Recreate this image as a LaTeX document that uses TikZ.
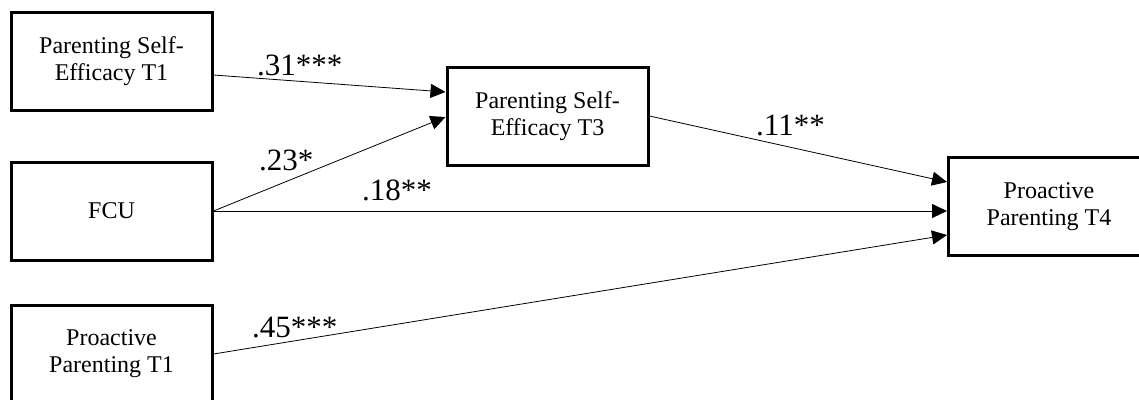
\documentclass[tikz,border=0pt]{standalone}
\usepackage{fontspec}
\setmainfont{Liberation Serif}
\usetikzlibrary{arrows.meta,calc}
\tikzset{
  varbox/.style={draw, line width=3pt, minimum width=201pt, minimum height=98pt, align=center, inner sep=0pt, font=\fontsize{24}{27}\selectfont},
  path/.style={line width=0.8pt, -{Triangle[length=15pt,width=14pt]}},
  coef/.style={inner sep=0pt, anchor=base west, font=\fontsize{31}{33}\selectfont}
}
\begin{document}
\begin{tikzpicture}[x=1pt,y=-1pt]
\clip (0,0) rectangle (1139,399);
\fill[white] (0,0) rectangle (1139,399);
\node[varbox] (b1) at (111.5,61) {Parenting Self-\\Efficacy T1};
\node[varbox] (b2) at (111.5,211) {FCU};
\node[varbox] (b3) at (111.5,354) {Proactive\\Parenting T1};
\node[varbox] (b4) at (547.5,116) {Parenting Self-\\Efficacy T3};
\node[varbox] (b5) at (1049,206.5) {Proactive\\Parenting T4};
\draw[path] ($(b1.east)+(0,14)$) -- ($(b4.west)+(0,-24)$);
\draw[path] (b2.east) -- ($(b4.west)+(0,1)$);
\draw[path] (b2.east) -- (b5.west |- b2.east);
\draw[path] (b4.east) -- ($(b5.west)+(0,-24.5)$);
\draw[path] (b3.east) -- ($(b5.west)+(0,28.5)$);
\node[coef] (l1) at (257,75) {.31***};
\node[coef] (l2) at (259,170) {.23*};
\node[coef] (l3) at (362,200) {.18**};
\node[coef] (l4) at (756,135) {.11**};
\node[coef] (l5) at (252,337) {.45***};
\end{tikzpicture}
\end{document}
